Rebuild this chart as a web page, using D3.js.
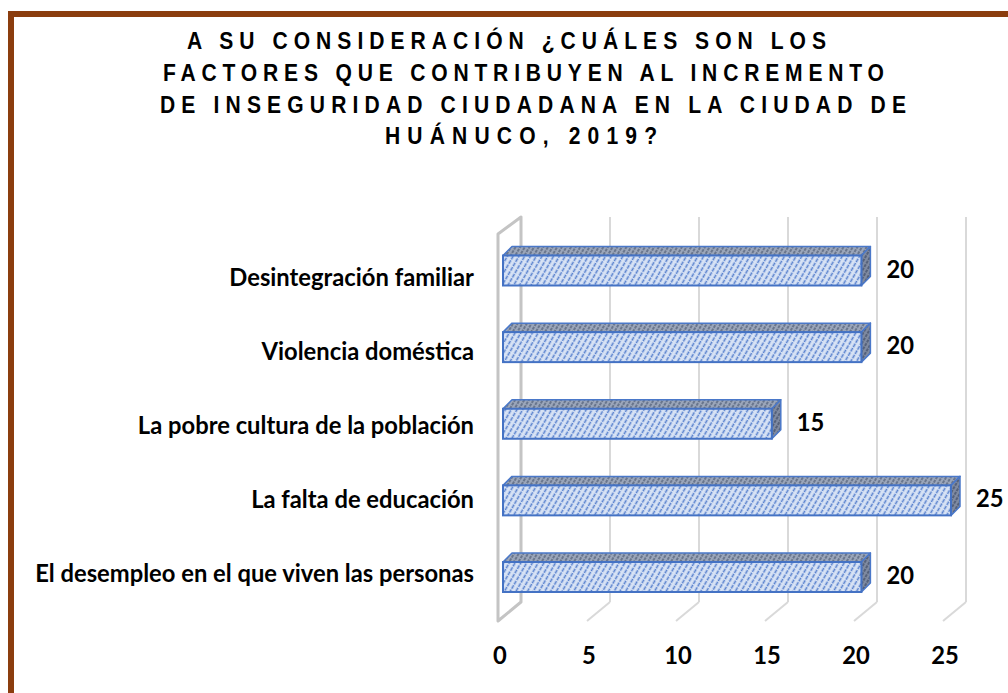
<!DOCTYPE html>
<html><head><meta charset="utf-8">
<script src="https://cdn.jsdelivr.net/npm/d3@7"></script>
<style>html,body{margin:0;padding:0;background:#fff;overflow:hidden}</style>
</head><body>
<svg id="chart" width="1008" height="693"></svg>
<script>
const categories = ["Desintegración familiar","Violencia doméstica","La pobre cultura de la población","La falta de educación ","El desempleo en el que viven las personas"];
const values = [20,20,15,25,20];
const tickValues = [0,5,10,15,20,25];
const titleLines = ["A SU CONSIDERACIÓN ¿CUÁLES SON LOS","FACTORES QUE CONTRIBUYEN AL INCREMENTO","DE INSEGURIDAD CIUDADANA EN LA CIUDAD DE","HUÁNUCO, 2019?"];

const svg = d3.select("#chart");
const defs = svg.append("defs");

// frame
svg.append("rect").attr("x",11).attr("y",14).attr("width",1100).attr("height",800)
  .attr("fill","none").attr("stroke","#8B3D0E").attr("stroke-width",6);

// title (narrow, tall glyphs, wide spacing)
const titleLayout = [{x:187,w:639,y:49},{x:163,w:721,y:81},{x:160,w:746,y:113},{x:385,w:272,y:144}];
const tsx = 0.86;
svg.append("g").selectAll("text").data(titleLines).join("text")
  .attr("transform",(d,i)=>`translate(${titleLayout[i].x},${titleLayout[i].y}) scale(${tsx},1)`)
  .attr("textLength",(d,i)=>titleLayout[i].w/tsx).attr("lengthAdjust","spacing")
  .attr("font-family","Liberation Sans, Arial, sans-serif").attr("font-weight","bold")
  .attr("font-size",24.5).attr("fill","#000").text(d=>d);

// patterns
function hatch(id,bg,fg,w,s,dash){
  const p = defs.append("pattern").attr("id",id).attr("patternUnits","userSpaceOnUse")
    .attr("width",s).attr("height",s).attr("patternTransform","rotate(30)");
  p.append("rect").attr("width",s).attr("height",s).attr("fill",bg);
  p.append("line").attr("x1",s/2).attr("y1",0).attr("x2",s/2).attr("y2",s)
    .attr("stroke",fg).attr("stroke-width",w).attr("stroke-dasharray",dash);
}
hatch("hFront","#d8e3f5","#5a82ce",1.6,5,"4,1");
hatch("hTop","#9ba6ba","#5d6a82",1.6,4,"3,1");
hatch("hSide","#7f8aa0","#4a5670",1.6,4,"3,1");

// scales
const xBack = d3.scaleLinear().domain([0,25]).range([521,966]);
const xFront = d3.scaleLinear().domain([0,25]).range([498,943]);
const xBar = d3.scaleLinear().domain([0,25]).range([503,951]);
const yBar = d3.scalePoint().domain(categories).range([270.5,577]);
const yLab = d3.scalePoint().domain(categories).range([286,582]);
const backTop = 217, backBottom = 602, frontTop = 234, frontBottom = 621;
const barH = 30, dx = 9, dy = 9;

// gridlines on back wall
svg.append("g").selectAll("line").data(tickValues.filter(t=>t>0)).join("line")
  .attr("x1",d=>xBack(d)).attr("x2",d=>xBack(d)).attr("y1",backTop).attr("y2",backBottom)
  .attr("stroke","#d9d9d9").attr("stroke-width",2);
// floor diagonals
svg.append("g").selectAll("line").data(tickValues.filter(t=>t>0)).join("line")
  .attr("x1",d=>xBack(d)).attr("y1",backBottom).attr("x2",d=>xFront(d)).attr("y2",frontBottom)
  .attr("stroke","#d9d9d9").attr("stroke-width",2);
// side wall
svg.append("path")
  .attr("d",`M${xBack(0)},${backTop} L${xBack(0)},${backBottom} L${xFront(0)},${frontBottom} L${xFront(0)},${frontTop} Z`)
  .attr("fill","none").attr("stroke","#c4c4c4").attr("stroke-width",3).attr("stroke-linejoin","round");

// bars
const bars = svg.append("g").selectAll("g").data(categories).join("g");
bars.append("path").attr("d",(c,i)=>{
  const x0=xBar(0), x1=xBar(values[i]), yt=yBar(c)-barH/2;
  return `M${x0},${yt} L${x1},${yt} L${x1+dx},${yt-dy} L${x0+dx},${yt-dy} Z`;
}).attr("fill","url(#hTop)").attr("stroke","#4a78c9").attr("stroke-width",1.5).attr("stroke-linejoin","round");
bars.append("path").attr("d",(c,i)=>{
  const x1=xBar(values[i]), yt=yBar(c)-barH/2, yb=yBar(c)+barH/2;
  return `M${x1},${yt} L${x1+dx},${yt-dy} L${x1+dx},${yb-dy} L${x1},${yb} Z`;
}).attr("fill","url(#hSide)").attr("stroke","#4a78c9").attr("stroke-width",1.5).attr("stroke-linejoin","round");
bars.append("rect")
  .attr("x",xBar(0)).attr("y",c=>yBar(c)-barH/2)
  .attr("width",(c,i)=>xBar(values[i])-xBar(0)).attr("height",barH)
  .attr("fill","url(#hFront)").attr("stroke","#4472c4").attr("stroke-width",2);

// text helpers
const font = "Lato, 'Open Sans', sans-serif";
const fs = 24;
const probe = svg.append("text").attr("font-family",font).attr("font-weight",700).attr("font-size",fs)
  .text(categories[4]);
const natural = probe.node().getComputedTextLength();
probe.remove();
const sx = Math.min(1, 439/natural);

// category labels
svg.append("g").selectAll("text").data(categories).join("text")
  .attr("transform",c=>`translate(474,${yLab(c)}) scale(${sx},1)`)
  .attr("text-anchor","end").attr("font-family",font).attr("font-weight",700)
  .attr("font-size",fs).attr("fill","#000").text(c=>c.trimEnd());

// data labels
svg.append("g").selectAll("text").data(categories).join("text")
  .attr("transform",(c,i)=>`translate(${xBar(values[i])+25},${yBar(c)+7}) scale(${sx},1)`)
  .attr("font-family",font).attr("font-weight",700).attr("font-size",fs).attr("fill","#000")
  .text((c,i)=>values[i]);

// tick labels
svg.append("g").selectAll("text").data(tickValues).join("text")
  .attr("transform",d=>`translate(${xFront(d)+2},664) scale(${sx},1)`)
  .attr("text-anchor","middle").attr("font-family",font).attr("font-weight",700)
  .attr("font-size",fs).attr("fill","#000").text(d=>d);
</script>
</body></html>
